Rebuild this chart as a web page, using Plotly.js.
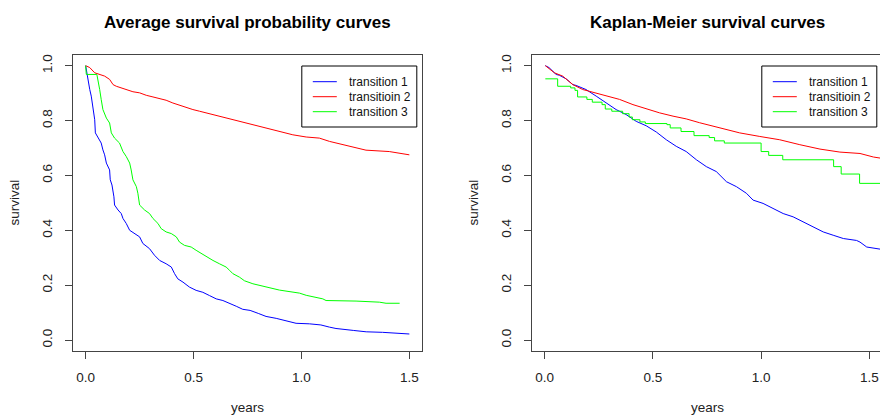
<!DOCTYPE html>
<html>
<head>
<meta charset="utf-8">
<script src="https://cdn.plot.ly/plotly-3.0.1.min.js"></script>
<style>
  html, body { margin: 0; padding: 0; overflow: hidden; background: #fff; }
  #chart { width: 890px; height: 416px; }
</style>
</head>
<body>
<div id="chart"></div>
<script>
// Series labels (shared by both panels)
const seriesNames = ['transition 1', 'transitioin 2', 'transition 3'];
const seriesColors = ['#0000FF', '#FF0000', '#00FF00'];

// Axis ticks
const xTickVals = [0, 0.5, 1, 1.5];
const xTickText = ['0.0', '0.5', '1.0', '1.5'];
const yTickVals = [0, 0.2, 0.4, 0.6, 0.8, 1.0];
const yTickText = ['0.0', '0.2', '0.4', '0.6', '0.8', '1.0'];

// Average survival probability curves
const avgYears1 = [0, 0.006, 0.011, 0.019, 0.026, 0.034, 0.042, 0.045, 0.057, 0.072, 0.080, 0.088, 0.096, 0.111, 0.114, 0.122, 0.131, 0.134, 0.150, 0.165, 0.173, 0.188, 0.204, 0.227, 0.250, 0.265, 0.296, 0.319, 0.343, 0.373, 0.397, 0.412, 0.427, 0.451, 0.481, 0.512, 0.543, 0.574, 0.605, 0.636, 0.667, 0.698, 0.728, 0.762, 0.800, 0.836, 0.883, 0.944, 0.975, 1.037, 1.090, 1.130, 1.160, 1.240, 1.300, 1.376, 1.420, 1.500];
const avgSurv1 = [1.000, 0.968, 0.950, 0.913, 0.889, 0.852, 0.803, 0.755, 0.736, 0.718, 0.693, 0.675, 0.645, 0.620, 0.584, 0.565, 0.522, 0.492, 0.474, 0.461, 0.443, 0.425, 0.400, 0.388, 0.376, 0.352, 0.333, 0.309, 0.290, 0.278, 0.266, 0.242, 0.223, 0.211, 0.193, 0.181, 0.174, 0.162, 0.150, 0.144, 0.132, 0.123, 0.112, 0.108, 0.097, 0.086, 0.079, 0.068, 0.061, 0.059, 0.055, 0.047, 0.042, 0.035, 0.030, 0.028, 0.026, 0.022];

const avgYears2 = [0, 0.019, 0.042, 0.065, 0.088, 0.111, 0.127, 0.142, 0.165, 0.188, 0.219, 0.250, 0.281, 0.312, 0.343, 0.373, 0.404, 0.435, 0.466, 0.497, 0.528, 0.559, 0.590, 0.620, 0.651, 0.682, 0.713, 0.775, 0.836, 0.898, 0.960, 1.022, 1.083, 1.130, 1.191, 1.253, 1.299, 1.407, 1.453, 1.500];
const avgSurv2 = [1.000, 0.993, 0.974, 0.968, 0.962, 0.950, 0.931, 0.925, 0.919, 0.913, 0.905, 0.901, 0.892, 0.886, 0.880, 0.874, 0.864, 0.856, 0.846, 0.840, 0.834, 0.828, 0.822, 0.816, 0.809, 0.803, 0.797, 0.785, 0.773, 0.761, 0.748, 0.740, 0.736, 0.724, 0.712, 0.700, 0.692, 0.687, 0.681, 0.675];

const avgYears3 = [0, 0.003, 0.052, 0.057, 0.065, 0.072, 0.080, 0.096, 0.111, 0.119, 0.134, 0.157, 0.173, 0.188, 0.204, 0.211, 0.219, 0.235, 0.242, 0.250, 0.273, 0.296, 0.312, 0.335, 0.350, 0.373, 0.397, 0.420, 0.435, 0.458, 0.489, 0.512, 0.536, 0.559, 0.590, 0.620, 0.651, 0.667, 0.682, 0.713, 0.736, 0.775, 0.836, 0.898, 0.991, 1.022, 1.099, 1.114, 1.253, 1.361, 1.392, 1.455];
const avgSurv3 = [1.000, 0.968, 0.968, 0.950, 0.913, 0.877, 0.840, 0.809, 0.791, 0.755, 0.736, 0.718, 0.687, 0.669, 0.645, 0.620, 0.584, 0.559, 0.535, 0.492, 0.474, 0.461, 0.443, 0.425, 0.406, 0.394, 0.388, 0.376, 0.357, 0.345, 0.339, 0.327, 0.315, 0.303, 0.290, 0.278, 0.266, 0.254, 0.242, 0.229, 0.216, 0.205, 0.193, 0.182, 0.171, 0.163, 0.150, 0.144, 0.142, 0.138, 0.134, 0.134];

// Kaplan-Meier survival curves
const kmYears1 = [0.003, 0.020, 0.053, 0.068, 0.099, 0.130, 0.145, 0.191, 0.238, 0.284, 0.330, 0.376, 0.423, 0.469, 0.516, 0.562, 0.608, 0.654, 0.701, 0.747, 0.793, 0.840, 0.886, 0.932, 0.963, 1.009, 1.056, 1.102, 1.148, 1.194, 1.241, 1.287, 1.333, 1.380, 1.441, 1.457, 1.488, 1.560];
const kmSurv1 = [1.000, 0.993, 0.968, 0.965, 0.952, 0.931, 0.928, 0.913, 0.889, 0.864, 0.840, 0.822, 0.797, 0.781, 0.758, 0.730, 0.706, 0.687, 0.657, 0.632, 0.614, 0.577, 0.559, 0.535, 0.510, 0.498, 0.480, 0.461, 0.449, 0.431, 0.412, 0.394, 0.382, 0.370, 0.363, 0.357, 0.339, 0.330];

const kmYears2 = [0.003, 0.045, 0.083, 0.130, 0.176, 0.222, 0.284, 0.346, 0.408, 0.469, 0.531, 0.593, 0.654, 0.716, 0.809, 0.901, 0.994, 1.086, 1.179, 1.272, 1.364, 1.457, 1.519, 1.560];
const kmSurv2 = [1.000, 0.974, 0.962, 0.931, 0.913, 0.903, 0.889, 0.877, 0.858, 0.842, 0.828, 0.816, 0.806, 0.792, 0.773, 0.755, 0.742, 0.730, 0.712, 0.696, 0.685, 0.680, 0.667, 0.662];

const kmYears3 = [0.003, 0.060, 0.120, 0.140, 0.152, 0.195, 0.220, 0.265, 0.280, 0.310, 0.360, 0.390, 0.405, 0.440, 0.465, 0.565, 0.580, 0.630, 0.690, 0.760, 0.785, 0.830, 1.000, 1.035, 1.100, 1.335, 1.370, 1.455, 1.560];
const kmSurv3 = [0.952, 0.925, 0.919, 0.910, 0.886, 0.877, 0.867, 0.858, 0.842, 0.834, 0.825, 0.813, 0.803, 0.795, 0.789, 0.785, 0.773, 0.760, 0.745, 0.738, 0.726, 0.718, 0.687, 0.673, 0.657, 0.632, 0.605, 0.571, 0.571];

// Figure geometry in pixels
const W = 890, H = 416;
const fx = x => x / W;          // pixel -> paper x
const fy = y => 1 - y / H;      // pixel -> paper y
const panels = [
  { left: 72.7, right: 422.3, title: 'Average survival probability curves', ax: '' },
  { left: 531.7, right: 882.3, title: 'Kaplan-Meier survival curves', ax: '2' }
];
const plotTop = 54.7, plotBottom = 351;

const FONT = 'Liberation Sans, Arial, Helvetica, sans-serif';
const boxColor = '#444';

function line(x, y, i, ax, shape) {
  return {
    x: x, y: y, type: 'scatter', mode: 'lines',
    name: seriesNames[i], showlegend: false,
    xaxis: 'x' + ax, yaxis: 'y' + ax,
    line: { color: seriesColors[i], width: 1, shape: shape || 'linear' },
    hoverinfo: 'skip'
  };
}

const traces = [
  line(avgYears1, avgSurv1, 0, ''),
  line(avgYears2, avgSurv2, 1, ''),
  line(avgYears3, avgSurv3, 2, ''),
  line(kmYears1, kmSurv1, 0, '2'),
  line(kmYears2, kmSurv2, 1, '2'),
  line(kmYears3, kmSurv3, 2, '2', 'hv')
];

function xAxis(p) {
  return {
    domain: [fx(p.left), fx(p.right)], range: [-0.06, 1.56],
    tickvals: xTickVals, ticktext: xTickText,
    ticks: 'outside', ticklen: 7, tickcolor: boxColor, tickwidth: 1,
    showline: true, mirror: true, linecolor: boxColor, linewidth: 1,
    showgrid: false, zeroline: false, fixedrange: true,
    ticklabelstandoff: 7,
    tickfont: { family: FONT, size: 13.5, color: '#222' },
    anchor: 'y' + p.ax
  };
}
function yAxis(p) {
  return {
    domain: [fy(plotBottom), fy(plotTop)], range: [-0.04, 1.04],
    tickvals: yTickVals, ticktext: yTickText, tickangle: -90,
    ticks: 'outside', ticklen: 7, tickcolor: boxColor, tickwidth: 1,
    showline: true, mirror: true, linecolor: boxColor, linewidth: 1,
    showgrid: false, zeroline: false, fixedrange: true,
    ticklabelstandoff: 7,
    tickfont: { family: FONT, size: 13.5, color: '#222' },
    anchor: 'x' + p.ax
  };
}

const annotations = [];
const shapes = [];
panels.forEach(p => {
  const cx = (p.left + p.right) / 2;
  // panel title
  annotations.push({ xref: 'paper', yref: 'paper', x: fx(cx), y: fy(22), xanchor: 'center', yanchor: 'middle',
    text: '<b>' + p.title + '</b>', showarrow: false, font: { family: FONT, size: 17, color: '#000' } });
  // axis titles
  annotations.push({ xref: 'paper', yref: 'paper', x: fx(cx), y: fy(407), xanchor: 'center', yanchor: 'middle',
    text: 'years', showarrow: false, font: { family: FONT, size: 13.5, color: '#222' } });
  annotations.push({ xref: 'paper', yref: 'paper', x: fx(p.left - 58), y: fy((plotTop + plotBottom) / 2), xanchor: 'center', yanchor: 'middle',
    text: 'survival', textangle: -90, showarrow: false, font: { family: FONT, size: 13.5, color: '#222' } });
  // legend box
  const lx0 = p.right - 120.5, lx1 = p.right - 5.5;
  shapes.push({ type: 'rect', xref: 'paper', yref: 'paper', x0: fx(lx0), x1: fx(lx1), y0: fy(127), y1: fy(66),
    line: { color: '#000', width: 1 }, fillcolor: '#fff' });
  seriesNames.forEach((nm, i) => {
    const yy = 81.7 + 15 * i;
    shapes.push({ type: 'line', xref: 'paper', yref: 'paper', x0: fx(p.right - 109.5), x1: fx(p.right - 85.5), y0: fy(yy), y1: fy(yy),
      line: { color: seriesColors[i], width: 1 } });
    annotations.push({ xref: 'paper', yref: 'paper', x: fx(p.right - 75.5), y: fy(yy), xanchor: 'left', yanchor: 'middle',
      text: nm, showarrow: false, font: { family: FONT, size: 12, color: '#111' } });
  });
});

const layout = {
  width: W, height: H,
  margin: { l: 0, r: 0, t: 0, b: 0, pad: 0 },
  paper_bgcolor: '#fff', plot_bgcolor: '#fff',
  showlegend: false,
  xaxis: xAxis(panels[0]), yaxis: yAxis(panels[0]),
  xaxis2: xAxis(panels[1]), yaxis2: yAxis(panels[1]),
  annotations: annotations, shapes: shapes
};

Plotly.newPlot('chart', traces, layout, { staticPlot: true, displayModeBar: false });
</script>
</body>
</html>
